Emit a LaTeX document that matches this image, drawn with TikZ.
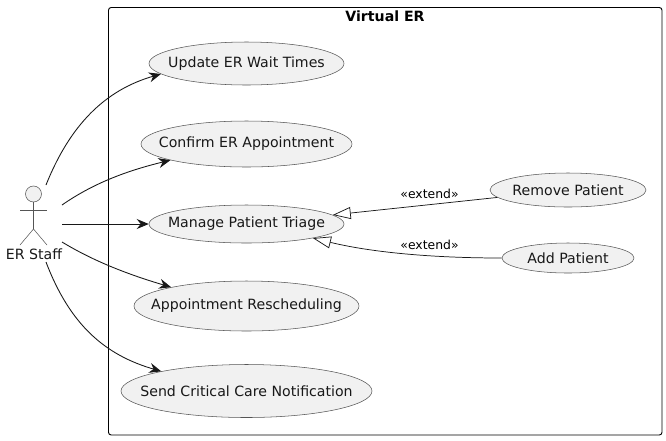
\documentclass[tikz,border=0pt]{standalone}
\usepackage{fontspec}
\setmainfont{DejaVu Sans}
\usepackage{tikz}
\usetikzlibrary{shapes.geometric, arrows.meta}
\definecolor{ucfill}{HTML}{F1F1F1}
\definecolor{ucline}{HTML}{181818}
\definecolor{ucthin}{HTML}{555555}
\tikzset{
  ucase/.style={ellipse, draw=ucthin, line width=0.4pt, fill=ucfill, inner sep=0pt, font=\fontsize{10.6}{12}\selectfont, text=ucline},
  assoc/.style={draw=ucline, line width=0.65pt, -{Stealth[length=9pt, width=7.5pt, inset=3pt]}},
  extendline/.style={draw=ucline, line width=0.55pt, -{Triangle[open, length=13.5pt, width=9pt, fill=white]}},
  stick/.style={draw=ucthin, line width=0.4pt},
  smalltext/.style={font=\fontsize{9.3}{11}\selectfont, text=black}
}
\begin{document}
\begin{tikzpicture}[x=0.75pt, y=-0.75pt]
\useasboundingbox (0,0) rectangle (666,440);
% boundary
\node[draw=black, line width=0.7pt, rounded corners=2pt, minimum width=553.5*0.75pt, minimum height=427.5*0.75pt, inner sep=0pt] (frame) at (385.25,221.25) {};
\node[font=\fontsize{10.6}{12}\selectfont\bfseries] (title) at (385,16.5) {Virtual ER};
% use cases
\foreach \name/\x/\y/\w/\h/\txt in {
  update/246.5/63.5/195/43/Update ER Wait Times,
  confirm/246.5/144/211/46/Confirm ER Appointment,
  manage/246.5/224/195/38/Manage Patient Triage,
  resched/246.5/306/225/50/Appointment Rescheduling,
  notify/246.5/391/251/53/Send Critical Care Notification,
  remove/568/190/156/34/Remove Patient,
  add/568/258/132/30/Add Patient}
\node[ucase, minimum width=\w*0.75pt, minimum height=\h*0.75pt] (\name) at (\x,\y) {\makebox[0pt]{\txt}};
% actor
\node[circle, stick, fill=ucfill, minimum size=16*0.75pt, inner sep=0pt] (head) at (33.5,194) {};
\coordinate (hip) at (33.5,229);
\coordinate (larm) at (20,210);
\coordinate (rarm) at (47,210);
\coordinate (lfoot) at (20,245);
\coordinate (rfoot) at (47,245);
\draw[stick] (head) -- (hip);
\draw[stick] (larm) -- (rarm);
\draw[stick] (lfoot) -- (hip) -- (rfoot);
\node[font=\fontsize{10.6}{12}\selectfont, text=ucline] (staff) at (34,254) {ER Staff};
\coordinate (s1) at (46,185);
\coordinate (s2) at (62,205);
\coordinate (s3) at (62,224);
\coordinate (s4) at (62,242);
\coordinate (s5) at (46,262);
% edges
\draw[assoc] (s1) .. controls (70,125) and (105,90) .. (update.187);
\draw[assoc] (s2) .. controls (95,182) and (130,170) .. (confirm.192);
\draw[assoc] (s3) -- (manage.west);
\draw[assoc] (s4) .. controls (95,262) and (130,275) .. (resched.166);
\draw[assoc] (s5) .. controls (70,325) and (105,355) .. (notify.167);
\draw[extendline] (remove.186) -- (manage.6.4);
\draw[extendline] (add.west) .. controls (430,258) and (370,252) .. (manage.348.5);
% labels
\node[smalltext] (ext1) at (429.5,194) {«extend»};
\node[smalltext] (ext2) at (429.5,244.5) {«extend»};
\end{tikzpicture}
\end{document}
